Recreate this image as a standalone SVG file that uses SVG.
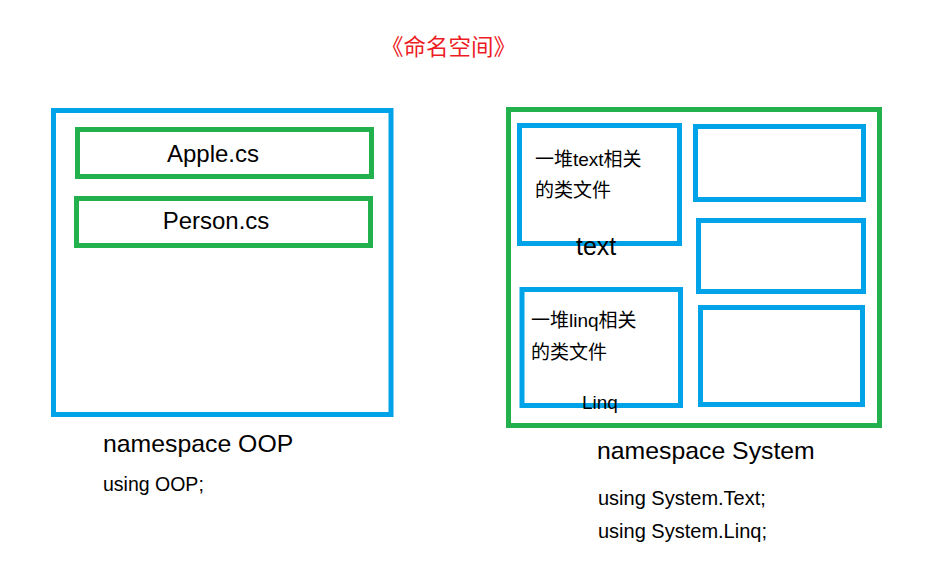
<svg xmlns="http://www.w3.org/2000/svg" width="943" height="569" viewBox="0 0 943 569">
<style>
  .blue { fill: none; stroke: #00A2E8; stroke-width: 5; }
  .green { fill: none; stroke: #22B14C; stroke-width: 5; }
  text { font-family: "Liberation Sans", "Noto Sans CJK SC", sans-serif; fill: #000; }
  .big { font-size: 24px; }
  .ns { font-size: 24.8px; }
  .mid { font-size: 19px; }
  .use { font-size: 20px; }
  .title { font-size: 22.5px; fill: #ED1C24; }
</style>
<rect width="943" height="569" fill="#fff"/>
<g id="title">
  <text class="title" x="381" y="55">《命名空间》</text>
</g>
<g id="ns-oop">
  <rect class="blue" x="53.5" y="110.5" width="337.5" height="304"/>
  <text class="ns" x="103" y="452">namespace OOP</text>
  <text class="use" x="103" y="491" style="font-size:19.5px">using OOP;</text>
</g>
<g id="apple">
  <rect class="green" x="77.5" y="129.5" width="294" height="47"/>
  <text class="big" x="213" y="162" text-anchor="middle">Apple.cs</text>
</g>
<g id="person">
  <rect class="green" x="76.5" y="198.5" width="294" height="47"/>
  <text class="big" x="216" y="229" text-anchor="middle">Person.cs</text>
</g>
<g id="ns-system">
  <rect class="green" x="508.5" y="109.5" width="371" height="316"/>
  <text class="ns" x="597" y="459">namespace System</text>
  <text class="use" x="598" y="505">using System.Text;</text>
  <text class="use" x="598" y="538">using System.Linq;</text>
</g>
<g id="text-box">
  <rect class="blue" x="519.5" y="125.5" width="160" height="118"/>
  <text class="mid" x="535" y="166">一堆text相关</text>
  <text class="mid" x="535" y="197">的类文件</text>
  <text class="big" x="576" y="255" style="font-size:25px">text</text>
</g>
<g id="linq-box">
  <rect class="blue" x="522" y="289.5" width="158.5" height="116"/>
  <text class="mid" x="531" y="327">一堆linq相关</text>
  <text class="mid" x="531" y="359">的类文件</text>
  <text class="mid" x="582" y="409">Linq</text>
</g>
<g id="box-r1">
  <rect class="blue" x="695.5" y="126.5" width="168" height="73"/>
</g>
<g id="box-r2">
  <rect class="blue" x="698.5" y="220.5" width="165" height="71"/>
</g>
<g id="box-r3">
  <rect class="blue" x="700.5" y="307.5" width="162" height="97"/>
</g>
<g id="connectors"></g>
</svg>
